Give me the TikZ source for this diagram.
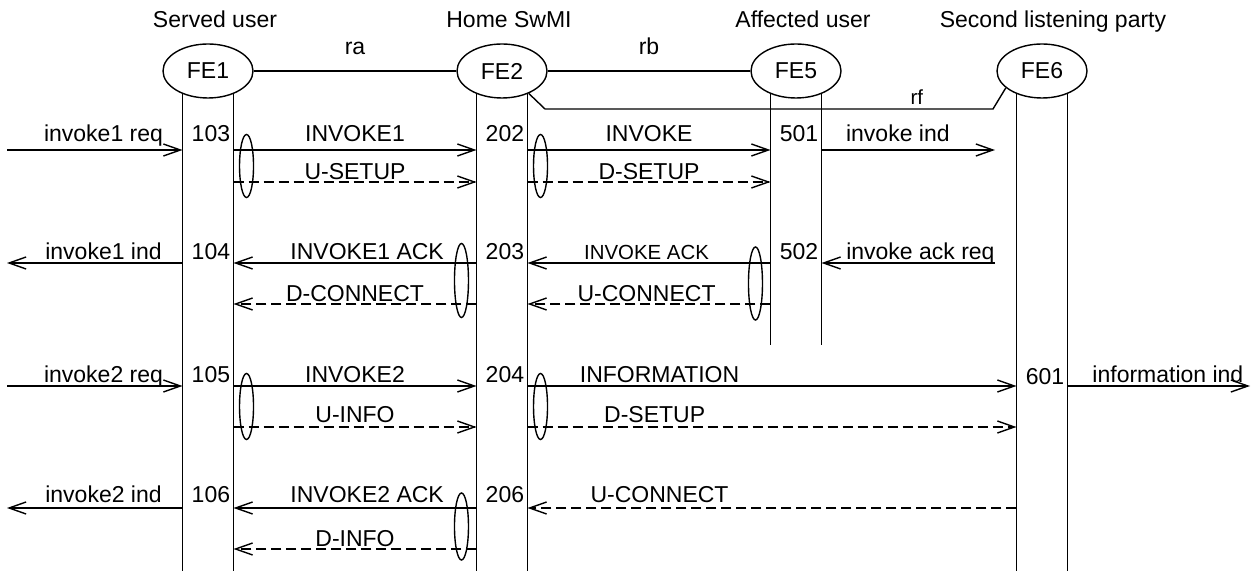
\documentclass[tikz,border=0pt]{standalone}
\usepackage{fontspec}
\setmainfont{Liberation Sans}
\usetikzlibrary{arrows.meta,positioning,calc,shapes.geometric}

\tikzset{
  fe/.style={draw, ellipse, fill=white, minimum width=45pt, minimum height=27pt,
             inner sep=0pt, line width=0.7pt},
  party/.style={inner sep=0pt, text depth=0pt},
  life/.style={line width=0.7pt},
  msg/.style={line width=0.7pt, -{Straight Barb[length=8.5pt,width=6pt]}},
  conf/.style={msg, dash pattern=on 5pt off 2.5pt},
  lbl/.style={above=#1, inner sep=0pt, text depth=0pt},
  lbl/.default=1.5pt,
  num/.style={anchor=south east, inner sep=0pt, text depth=0pt, xshift=-1.5pt, yshift=#1},
  num/.default=1.5pt,
  grp/.style={draw, ellipse, minimum width=7pt, inner sep=0pt, line width=0.7pt},
  small/.style={font=\fontsize{10.2}{12}\selectfont}
}

\begin{document}
\begin{tikzpicture}[x=0.5pt, y=-0.5pt, font=\fontsize{11.5}{13.5}\selectfont]
  \useasboundingbox (0,0) rectangle (1259,571);

  % functional entities
  \node[fe] (fe1) at (208,71)  {FE1};
  \node[fe] (fe2) at (502,71)  {FE2};
  \node[fe] (fe5) at (796,71)  {FE5};
  \node[fe] (fe6) at (1042,71) {FE6};

  \node[party, above=7.5pt of fe1, xshift=3.5pt] (su) {Served user};
  \node[party, above=7.5pt of fe2, xshift=3.5pt] (hs) {Home SwMI};
  \node[party, above=7.5pt of fe5, xshift=3.5pt] (au) {Affected user};
  \node[party, above=7.5pt of fe6, xshift=5.5pt] (sl) {Second listening party};

  % relationships
  \draw[life] (fe1) -- node[lbl=8pt] {ra} (fe2);
  \draw[life] (fe2) -- node[lbl=8pt] {rb} (fe5);
  \coordinate (rfa) at (545,109);
  \coordinate (rfb) at (993,109);
  \draw[life] (fe2.-40) -- (rfa) -- node[lbl=2pt, small, pos=0.83] {rf} (rfb) -- (fe6.205);

  % lifelines
  \coordinate (bot)  at (0,571);
  \coordinate (bot5) at (0,345);
  \foreach \f in {fe1,fe2,fe5,fe6} {
    \coordinate (\f l) at (\f.222);
    \coordinate (\f r) at (\f.318);
  }
  \foreach \f in {fe1,fe2,fe6}
    \draw[life] (\f l) -- (\f l |- bot) (\f r) -- (\f r |- bot);
  \draw[life] (fe5l) -- (fe5l |- bot5) (fe5r) -- (fe5r |- bot5);

  % rows and outer ends
  \coordinate (r1) at (0,150);  \coordinate (r1d) at (0,182);
  \coordinate (r2) at (0,263);  \coordinate (r2d) at (0,304);
  \coordinate (r3) at (0,386);  \coordinate (r3d) at (0,427);
  \coordinate (r4) at (0,508);  \coordinate (r4d) at (0,549);
  \coordinate (lft) at (7,0);
  \coordinate (ext6) at (995,0);
  \coordinate (rgt) at (1250,0);

  % invoke1
  \draw[msg] (lft |- r1) -- node[lbl=4pt, pos=0.55] {invoke1 req} (fe1l |- r1);
  \draw[msg] (fe1r |- r1) -- node[lbl=4pt] {INVOKE1} (fe2l |- r1);
  \draw[conf] (fe1r |- r1d) -- node[lbl=1pt] {U-SETUP} (fe2l |- r1d);
  \draw[msg] (fe2r |- r1) -- node[lbl=4pt] {INVOKE} (fe5l |- r1);
  \draw[conf] (fe2r |- r1d) -- node[lbl=1pt] {D-SETUP} (fe5l |- r1d);
  \draw[msg] (fe5r |- r1) -- node[lbl=4pt, pos=0.44] {invoke ind} (ext6 |- r1);
  \node[num=4pt] (n103) at (fe1r |- r1) {103};
  \node[num=4pt] (n202) at (fe2r |- r1) {202};
  \node[num=4pt] (n501) at (fe5r |- r1) {501};
  \node[grp, minimum height=31.5pt] (g1a) at ($(fe1r |- r1)!0.5!(fe1r |- r1d)+(13,0)$) {};
  \node[grp, minimum height=31.5pt] (g1b) at ($(fe2r |- r1)!0.5!(fe2r |- r1d)+(13,0)$) {};

  % invoke1 ack
  \draw[msg] (fe1l |- r2) -- node[lbl, pos=0.45] {invoke1 ind} (lft |- r2);
  \draw[msg] (fe2l |- r2) -- node[lbl, pos=0.45] {INVOKE1 ACK} (fe1r |- r2);
  \draw[conf] (fe2l |- r2d) -- node[lbl=1pt] {D-CONNECT} (fe1r |- r2d);
  \draw[msg] (fe5l |- r2) -- node[lbl, small, pos=0.51] {INVOKE ACK} (fe2r |- r2);
  \draw[conf] (fe5l |- r2d) -- node[lbl=1pt, pos=0.51] {U-CONNECT} (fe2r |- r2d);
  \draw[msg] (ext6 |- r2) -- node[lbl, pos=0.43] {invoke ack req} (fe5r |- r2);
  \node[num] (n104) at (fe1r |- r2) {104};
  \node[num] (n203) at (fe2r |- r2) {203};
  \node[num] (n502) at (fe5r |- r2) {502};
  \node[grp, minimum height=37pt] (g2a) at ($(fe2l |- r2)!0.5!(fe2l |- r2d)+(-15,-3)$) {};
  \node[grp, minimum height=36.5pt] (g2b) at ($(fe5l |- r2)!0.5!(fe5l |- r2d)+(-15,0)$) {};

  % invoke2
  \draw[msg] (lft |- r3) -- node[lbl, pos=0.55] {invoke2 req} (fe1l |- r3);
  \draw[msg] (fe1r |- r3) -- node[lbl] {INVOKE2} (fe2l |- r3);
  \draw[conf] (fe1r |- r3d) -- node[lbl=2pt] {U-INFO} (fe2l |- r3d);
  \draw[msg] (fe2r |- r3) -- node[lbl, pos=0.27] {INFORMATION} (fe6l |- r3);
  \draw[conf] (fe2r |- r3d) -- node[lbl=2pt, pos=0.26] {D-SETUP} (fe6l |- r3d);
  \draw[msg] (fe6r |- r3) -- node[lbl, pos=0.55] {information ind} (rgt |- r3);
  \node[num] (n105) at (fe1r |- r3) {105};
  \node[num] (n204) at (fe2r |- r3) {204};
  \node[num=0.5pt] (n601) at (fe6r |- r3) {601};
  \node[grp, minimum height=33pt] (g3a) at ($(fe1r |- r3)!0.5!(fe1r |- r3d)+(13,0)$) {};
  \node[grp, minimum height=33pt] (g3b) at ($(fe2r |- r3)!0.5!(fe2r |- r3d)+(13,0)$) {};

  % invoke2 ack
  \draw[msg] (fe1l |- r4) -- node[lbl=2.5pt, pos=0.45] {invoke2 ind} (lft |- r4);
  \draw[msg] (fe2l |- r4) -- node[lbl=2.5pt, pos=0.45] {INVOKE2 ACK} (fe1r |- r4);
  \draw[conf] (fe2l |- r4d) -- node[lbl=1pt] {D-INFO} (fe1r |- r4d);
  \draw[conf] (fe6l |- r4) -- node[lbl=2.5pt, pos=0.73] {U-CONNECT} (fe2r |- r4);
  \node[num=2.5pt] (n106) at (fe1r |- r4) {106};
  \node[num=2.5pt] (n206) at (fe2r |- r4) {206};
  \node[grp, minimum height=33.5pt] (g4a) at ($(fe2l |- r4)!0.5!(fe2l |- r4d)+(-15,-2)$) {};
\end{tikzpicture}
\end{document}
